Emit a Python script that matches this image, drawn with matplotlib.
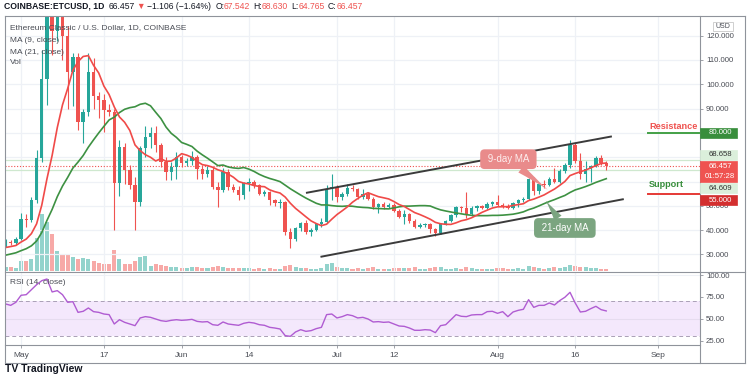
import numpy as np
import pandas as pd
import matplotlib
matplotlib.use('Agg')
from matplotlib import pyplot as plt
import matplotlib.dates as mdates
from matplotlib.patches import Rectangle
from matplotlib.lines import Line2D

plt.rcParams['font.family'] = ['Liberation Sans', 'DejaVu Sans']

#---------------
# Data (daily ETC/USD, Coinbase, Apr 28 - Aug 22 2021)
#---------------

# closes before the first visible candle (Apr 8 - Apr 27), only feed the moving averages
pre_close = [24.5, 25.8, 26.2, 27.0, 27.5, 28.0, 28.4, 27.2, 26.5, 27.8, 29.0, 30.2,
             31.0, 32.5, 31.8, 33.0, 32.2, 33.5, 32.8, 33.6]

first_day = '2021-04-28'

opens = [33.9, 35.3, 34.6, 36.4, 44.6, 44.0, 52.4, 69.6, 102.1, 131.0,
         122.0, 138.0, 120.0, 105.2, 111.4, 84.6, 88.8, 105.2, 95.0, 93.6,
         89.5, 88.8, 59.3, 74.4, 64.8, 58.6, 51.7, 73.8, 78.5, 80.0,
         75.0, 68.2, 64.0, 66.0, 70.2, 67.5, 68.3, 70.2, 65.2, 63.0,
         64.6, 57.9, 56.6, 64.0, 57.9, 56.6, 54.3, 59.3, 59.9, 58.5,
         55.0, 55.5, 52.3, 51.1, 51.6, 39.4, 36.4, 40.9, 43.0, 39.4,
         40.2, 42.4, 43.5, 56.9, 57.9, 53.5, 54.8, 57.5, 56.8, 53.7,
         54.8, 52.8, 49.4, 50.7, 49.4, 50.4, 48.0, 45.6, 46.5, 43.6,
         41.5, 42.2, 42.4, 40.4, 38.8, 42.7, 43.6, 46.1, 49.5, 49.0,
         46.5, 49.3, 49.9, 49.3, 50.8, 51.5, 50.5, 50.0, 49.3, 51.0,
         52.4, 53.0, 61.0, 56.3, 59.0, 58.5, 61.0, 60.0, 64.5, 66.8,
         75.0, 68.5, 63.1, 65.0, 66.5, 69.8, 67.542]

highs = [36.2, 36.0, 37.0, 47.0, 46.5, 53.5, 73.0, 114.0, 150.0, 140.0,
         145.0, 142.0, 124.0, 113.0, 113.0, 90.0, 113.0, 111.0, 97.0, 96.0,
         92.0, 90.0, 77.0, 76.0, 67.0, 62.0, 74.5, 83.0, 82.5, 83.0,
         76.0, 70.0, 68.0, 72.0, 71.0, 69.5, 72.5, 71.0, 67.0, 66.5,
         66.0, 60.0, 65.5, 65.0, 59.0, 58.0, 60.0, 61.5, 60.5, 59.0,
         56.5, 56.0, 53.0, 53.0, 52.0, 41.0, 41.5, 43.5, 44.0, 41.0,
         43.0, 44.9, 58.5, 63.0, 58.5, 55.5, 58.9, 58.6, 57.5, 56.8,
         55.5, 53.5, 51.0, 51.5, 51.0, 51.0, 48.5, 48.2, 47.0, 44.5,
         42.8, 43.0, 43.0, 41.0, 43.0, 44.0, 46.5, 49.8, 50.0, 55.8,
         50.0, 50.5, 50.5, 51.5, 52.0, 54.3, 51.2, 50.8, 51.5, 53.0,
         53.5, 61.5, 62.0, 59.5, 60.5, 62.0, 65.4, 65.0, 67.5, 77.2,
         76.0, 71.9, 68.5, 67.0, 70.5, 70.8, 68.630]

lows = [33.0, 33.8, 33.9, 36.0, 41.5, 43.5, 51.0, 68.0, 91.5, 112.0,
        118.0, 110.0, 90.0, 91.0, 81.0, 76.0, 87.0, 90.0, 86.0, 80.5,
        87.0, 40.0, 54.0, 59.0, 57.0, 40.0, 50.0, 70.0, 74.0, 72.0,
        66.0, 60.5, 60.5, 61.0, 66.0, 66.5, 67.0, 61.0, 61.0, 62.0,
        57.0, 49.7, 55.5, 56.5, 55.5, 52.5, 53.0, 56.0, 57.5, 54.5,
        54.0, 50.5, 50.0, 49.0, 38.0, 32.6, 35.5, 39.5, 38.5, 37.4,
        39.5, 41.5, 43.0, 52.5, 51.4, 52.5, 54.0, 56.0, 53.0, 53.0,
        52.5, 48.5, 47.0, 48.5, 49.0, 47.5, 45.0, 42.6, 43.0, 41.0,
        41.0, 41.5, 39.0, 37.8, 38.5, 42.0, 43.3, 45.5, 47.5, 45.0,
        46.0, 48.0, 48.8, 48.5, 50.0, 49.8, 49.0, 48.5, 48.8, 49.5,
        51.5, 52.5, 54.3, 55.0, 57.5, 58.0, 59.5, 59.5, 63.5, 65.5,
        67.5, 61.0, 59.7, 60.0, 66.0, 67.0, 64.765]

closes = [35.3, 34.6, 36.4, 44.6, 44.0, 52.4, 69.6, 102.1, 131.0, 122.0,
          138.0, 120.0, 105.2, 111.4, 84.6, 88.8, 105.2, 95.0, 93.6, 89.5,
          88.8, 59.3, 74.4, 64.8, 58.6, 51.7, 73.8, 78.5, 80.0, 75.0,
          68.2, 64.0, 66.0, 70.2, 67.5, 68.3, 70.2, 65.2, 63.0, 64.6,
          57.9, 56.6, 64.0, 57.9, 56.6, 54.3, 59.3, 59.9, 58.5, 55.0,
          55.5, 52.3, 51.1, 51.6, 39.4, 36.4, 40.9, 43.0, 39.4, 40.2,
          42.4, 43.5, 56.9, 57.9, 53.5, 54.8, 57.5, 56.8, 53.7, 54.8,
          52.8, 49.4, 50.7, 49.4, 50.4, 48.0, 45.6, 46.5, 43.6, 41.5,
          42.2, 42.4, 40.4, 38.8, 42.7, 43.6, 46.1, 49.5, 49.0, 46.5,
          49.3, 49.9, 49.3, 50.8, 51.5, 50.5, 50.0, 49.3, 51.0, 52.4,
          53.0, 61.0, 56.3, 59.0, 58.5, 61.0, 60.0, 64.5, 66.8, 75.0,
          68.5, 63.1, 65.0, 66.5, 69.8, 67.542, 66.457]

# volume, millions
volume = [1.1, 1.1, 0.8, 2.5, 2.5, 2.9, 8.3, 14.3, 12.3, 9.2,
          5.0, 4.2, 4.2, 3.5, 2.9, 3.3, 2.9, 2.5, 2.1, 1.8,
          1.7, 5.2, 2.9, 1.8, 1.8, 2.5, 3.5, 3.8, 1.3, 1.8,
          1.5, 1.3, 1.0, 1.0, 0.8, 0.8, 1.0, 1.0, 0.8, 0.8,
          1.0, 1.3, 0.9, 0.8, 0.8, 0.8, 0.8, 0.8, 0.6, 0.8,
          0.6, 0.8, 0.6, 0.6, 1.3, 1.5, 1.0, 0.8, 0.8, 0.6,
          0.6, 0.8, 1.8, 2.0, 1.0, 0.8, 0.8, 0.5, 0.8, 0.6,
          0.8, 0.9, 0.6, 0.5, 0.5, 0.8, 0.8, 0.8, 0.8, 0.9,
          0.5, 0.5, 0.8, 0.9, 0.9, 0.6, 0.6, 0.8, 0.5, 1.1,
          0.8, 0.6, 0.6, 0.6, 0.5, 0.8, 0.8, 0.6, 0.6, 0.8,
          0.6, 1.3, 1.0, 0.8, 0.6, 0.8, 0.9, 0.8, 1.0, 1.5,
          1.3, 1.1, 0.9, 0.8, 0.8, 0.6, 0.4]

rsi = [67.0, 65.4, 68.9, 76.9, 77.6, 83.3, 89.0, 93.6, 95.5, 80.7,
       82.2, 77.6, 68.9, 69.6, 57.4, 58.6, 62.4, 58.2, 57.4, 55.5,
       54.8, 44.1, 49.0, 46.0, 44.1, 42.2, 51.0, 52.5, 51.7, 49.8,
       47.9, 47.1, 48.3, 49.0, 48.3, 48.7, 49.4, 47.1, 46.4, 46.8,
       43.3, 42.6, 46.4, 44.1, 43.3, 42.6, 44.9, 46.0, 45.2, 43.3,
       42.6, 40.3, 39.5, 38.4, 30.8, 30.0, 35.0, 37.6, 35.7, 36.5,
       38.8, 40.3, 54.8, 55.5, 51.0, 52.5, 54.8, 53.6, 51.0, 51.7,
       49.8, 46.4, 46.8, 46.0, 46.4, 44.1, 41.8, 41.4, 39.5, 36.9,
       36.9, 37.6, 37.2, 34.2, 42.2, 43.3, 49.0, 54.8, 52.9, 52.5,
       54.4, 54.8, 54.8, 58.2, 58.6, 56.3, 58.2, 52.5, 57.8, 59.7,
       60.9, 71.9, 63.1, 65.4, 65.4, 68.1, 65.8, 70.8, 74.6, 80.3,
       68.1, 57.8, 58.6, 61.6, 64.3, 60.5, 59.0]

# price levels
resistance = 80.0
support = 55.0
last_price = 66.457
day_high = 68.658
day_low = 64.609

# ascending channel (days after May 1, price)
chan_up_d = [55.2, 113.9]
chan_up_p = [55.4, 78.5]
chan_lo_d = [58.0, 116.2]
chan_lo_p = [29.1, 52.7]

price_ticks = [30, 40, 50, 90, 100, 110, 120]   # 60/70/80 sit under the price tags
tick_dates = ['2021-05-01', '2021-05-17', '2021-06-01', '2021-06-14', '2021-07-01',
              '2021-07-12', '2021-08-01', '2021-08-16', '2021-09-01']
tick_names = ['May', '17', 'Jun', '14', 'Jul', '12', 'Aug', '16', 'Sep']

#---------------
# Prep
#---------------
W, H = 750, 375
UP, DOWN = '#26a69a', '#ef5350'
GRID = '#eef1f6'
FRAME = '#8f939b'
TXT = '#4a4d55'

dates = pd.date_range(first_day, periods=len(closes), freq='D')
xd = mdates.date2num(dates.to_pydatetime())
may1 = mdates.date2num(pd.Timestamp('2021-05-01').to_pydatetime())

o = np.array(opens); c = np.array(closes)
hi = np.array(highs); lo = np.array(lows)
up = c >= o
col = np.where(up, UP, DOWN)
vol_col = np.where(up, '#93d3cc', '#f7a9a7')

all_close = pd.Series(pre_close + closes)
ma9 = all_close.rolling(9).mean().values[len(pre_close):]
ma21 = all_close.rolling(21).mean().values[len(pre_close):]

x_left = xd[0] - 0.1
x_right = xd[0] + 134.1

def fy(px):
    return 1 - px / H

fig = plt.figure(figsize=(W / 100, H / 100), dpi=100)
fig.patch.set_facecolor('white')

ax = fig.add_axes([5 / W, fy(271), 695 / W, 255 / H])
axr = fig.add_axes([5 / W, fy(345), 695 / W, 73 / H])

#---------------
# Volume (behind price)
#---------------
axv = ax.twinx()
axv.bar(xd, volume, width=0.78, color=vol_col, linewidth=0)
axv.set_ylim(0, 63.5)
axv.set_yticks([])
for s in axv.spines.values():
    s.set_visible(False)
ax.set_zorder(axv.get_zorder() + 1)
ax.patch.set_visible(False)
axv.set_xlim(x_left, x_right)

#---------------
# Price pane
#---------------
ax.set_xlim(x_left, x_right)
ax.set_ylim(23.2, 128.1)
for t in tick_dates:
    ax.axvline(mdates.date2num(pd.Timestamp(t).to_pydatetime()), color=GRID, lw=0.9, zorder=0)
    axr.axvline(mdates.date2num(pd.Timestamp(t).to_pydatetime()), color=GRID, lw=0.9, zorder=0)
for v in range(30, 130, 10):
    ax.axhline(v, color=GRID, lw=0.9, zorder=0)

ax.axhline(day_high, color='#cfe8cf', lw=0.9, zorder=1)
ax.axhline(day_low, color='#cfe8cf', lw=0.9, zorder=1)
ax.axhline(last_price, color=DOWN, lw=0.8, ls=(0, (1, 1.6)), zorder=1)

ax.vlines(xd, lo, hi, colors=col, lw=0.8, zorder=2)
body = np.maximum(np.abs(c - o), 0.35)
ax.bar(xd, body, bottom=np.minimum(o, c), width=0.66, color=col, linewidth=0, zorder=3)

ax.plot(xd, ma21, color='#3d9142', lw=1.2, zorder=4)
ax.plot(xd, ma9, color='#f04a48', lw=1.2, zorder=4)

ax.plot(may1 + np.array(chan_up_d), chan_up_p, color='#3b3b3b', lw=1.4, zorder=5)
ax.plot(may1 + np.array(chan_lo_d), chan_lo_p, color='#3b3b3b', lw=1.4, zorder=5)

ax.plot([may1 + 121.0, x_right], [resistance, resistance], color='#43a047', lw=1.4, zorder=5, clip_on=False)
ax.plot([may1 + 121.0, x_right], [support, support], color='#e53935', lw=1.4, zorder=5, clip_on=False)
ax.text(may1 + 121.3, 82.7, 'Resistance', color='#ef5350', fontsize=6.6, fontweight='bold',
        ha='left', va='center', zorder=6)
ax.text(may1 + 121.3, 58.7, 'Support', color='#388e3c', fontsize=6.6, fontweight='bold',
        ha='left', va='center', zorder=6)

ax.annotate(' 9-day MA ', xy=(may1 + 101.7, 56.6), xytext=(may1 + 94.1, 69.2),
            ha='center', va='center', color='#fdeeee', fontsize=7, zorder=7,
            bbox=dict(boxstyle='round,pad=0.5,rounding_size=0.45', fc='#e98b8b', ec='none'),
            arrowprops=dict(arrowstyle='wedge,tail_width=0.9,shrink_factor=0.4',
                            fc='#e98b8b', ec='none', shrinkA=0, shrinkB=0))
ax.annotate(' 21-day MA ', xy=(may1 + 101.3, 52.2), xytext=(may1 + 105.0, 40.9),
            ha='center', va='center', color='white', fontsize=7, zorder=7,
            bbox=dict(boxstyle='round,pad=0.5,rounding_size=0.45', fc='#7ba580', ec='none'),
            arrowprops=dict(arrowstyle='wedge,tail_width=0.9,shrink_factor=0.4',
                            fc='#7ba580', ec='none', shrinkA=0, shrinkB=0))

ax.yaxis.tick_right()
ax.set_yticks(price_ticks)
ax.set_yticklabels([f'{v:.3f}' for v in price_ticks])
ax.tick_params(axis='y', length=2.5, width=0.6, color=FRAME, pad=1.8, labelsize=5.6, labelcolor=TXT)
ax.set_xticks([])
for s in ax.spines.values():
    s.set_visible(False)

#---------------
# RSI pane
#---------------
axr.set_xlim(x_left, x_right)
axr.set_ylim(20.1, 103.5)
axr.axhspan(30, 70, color='#f4e8fc', zorder=0, lw=0)
axr.axhline(70, color='#aaa0b6', lw=0.7, ls=(0, (4, 3)), zorder=1)
axr.axhline(30, color='#aaa0b6', lw=0.7, ls=(0, (4, 3)), zorder=1)
axr.axhline(50, color='#e6dcef', lw=0.8, zorder=1)
axr.axhline(100, color=GRID, lw=0.8, zorder=1)
axr.plot(xd, rsi, color='#b05cd2', lw=1.0, zorder=3)
axr.yaxis.tick_right()
axr.set_yticks([25, 50, 75, 100])
axr.set_yticklabels(['25.00', '50.00', '75.00', '100.00'])
axr.tick_params(axis='y', length=2.5, width=0.6, color=FRAME, pad=1.8, labelsize=5.6, labelcolor=TXT)
axr.set_xticks([mdates.date2num(pd.Timestamp(t).to_pydatetime()) for t in tick_dates])
axr.set_xticklabels(tick_names)
axr.tick_params(axis='x', length=2.5, width=0.6, color=FRAME, pad=2.5, labelsize=6, labelcolor=TXT)
for s in axr.spines.values():
    s.set_visible(False)

#---------------
# Frame
#---------------
def hline(y, x0, x1):
    fig.add_artist(Line2D([x0 / W, x1 / W], [fy(y), fy(y)], color=FRAME, lw=0.8))

def vline(x, y0, y1):
    fig.add_artist(Line2D([x / W, x / W], [fy(y0), fy(y1)], color=FRAME, lw=0.8))

hline(16, 5, 745); hline(271.5, 5, 745); hline(345, 5, 700); hline(363, 5, 745)
vline(5, 16, 363); vline(700, 16, 363); vline(745, 16, 363)

#---------------
# Texts
#---------------
fig.text(10 / W, fy(28), 'Ethereum Classic / U.S. Dollar, 1D, COINBASE', fontsize=6, color=TXT, va='center')
fig.text(10 / W, fy(40), 'MA (9, close)', fontsize=6, color=TXT, va='center')
fig.text(10 / W, fy(52), 'MA (21, close)', fontsize=6, color=TXT, va='center')
fig.text(10 / W, fy(63), 'Vol', fontsize=6, color=TXT, va='center')
fig.text(10 / W, fy(283), 'RSI (14, close)', fontsize=6, color=TXT, va='center')

renderer = fig.canvas.get_renderer()
def put_row(x_px, y_px, parts, size):
    for s, colr, wt, gap in parts:
        t = fig.text(x_px / W, fy(y_px), s, color=colr, fontsize=size, fontweight=wt, va='center', ha='left')
        x_px += t.get_window_extent(renderer=renderer).width + gap

DARK = '#131722'
put_row(4, 6.5, [('COINBASE:ETCUSD, 1D', DARK, 'bold', 4),
                 ('66.457', DARK, 'normal', 2),
                 ('\u25bc', DOWN, 'normal', 2),
                 ('\u22121.106 (\u22121.64%)', DARK, 'normal', 4),
                 ('O:', DARK, 'normal', 0), ('67.542', DOWN, 'normal', 3),
                 ('H:', DARK, 'normal', 0), ('68.630', DOWN, 'normal', 3),
                 ('L:', DARK, 'normal', 0), ('64.765', DOWN, 'normal', 3),
                 ('C:', DARK, 'normal', 0), ('66.457', DOWN, 'normal', 0)], 6.2)

# price scale labels
def tag(y0, y1, lines, fc, tc, ec=None):
    fig.add_artist(Rectangle((700 / W, fy(y1)), 37 / W, (y1 - y0) / H, facecolor=fc,
                             edgecolor=ec if ec else fc, lw=0.5, zorder=5))
    n = len(lines)
    for i, s in enumerate(lines):
        yc = y0 + (y1 - y0) * (i + 0.5) / n
        fig.text(720 / W, fy(yc), s, color=tc, fontsize=5.6, ha='center', va='center', zorder=6)

tag(128, 138, ['80.000'], '#388e3c', 'white')
tag(150, 160, ['68.658'], '#dbefdb', '#333333')
tag(161, 182, ['66.457', '01:57:28'], '#ef5350', 'white')
tag(183, 193, ['64.609'], '#dbefdb', '#333333')
tag(195, 205, ['55.000'], '#d32f2f', 'white')

fig.add_artist(Rectangle((713 / W, fy(31)), 20 / W, 9 / H, facecolor='white', edgecolor='#c8c8c8', lw=0.6, zorder=5))
fig.text(723 / W, fy(26.5), 'USD', fontsize=5, color=TXT, ha='center', va='center', zorder=6)

fig.text(5 / W, fy(374.5), 'TV TradingView', fontsize=7.5, fontweight='bold', color=DARK, ha='left', va='bottom')

plt.savefig('out.png', dpi=100, facecolor='white')
